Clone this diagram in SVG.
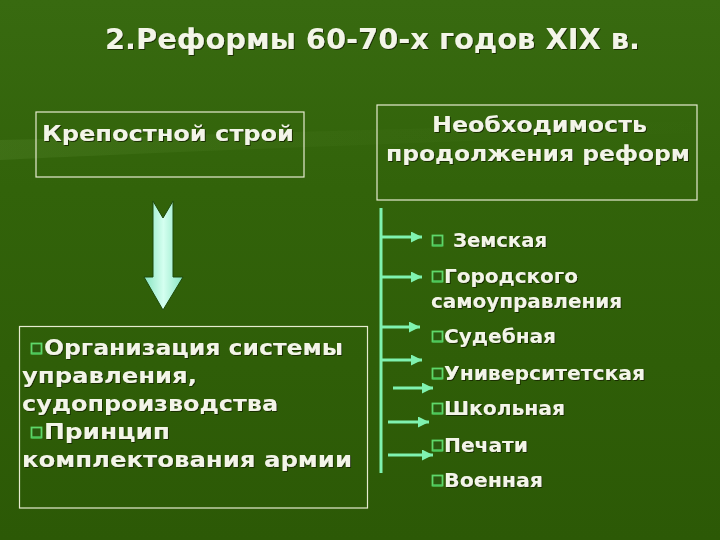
<svg xmlns="http://www.w3.org/2000/svg" width="720" height="540" viewBox="0 0 720 540">
<defs>
<linearGradient id="bg" x1="0" y1="0" x2="0" y2="1">
<stop offset="0" stop-color="#386a10"/>
<stop offset="0.35" stop-color="#32630a"/>
<stop offset="1" stop-color="#2c5906"/>
</linearGradient>
<linearGradient id="sheen" x1="0" y1="0" x2="1" y2="0">
<stop offset="0" stop-color="#6a9a40" stop-opacity="0.2"/>
<stop offset="0.5" stop-color="#6a9a40" stop-opacity="0.06"/>
<stop offset="1" stop-color="#6a9a40" stop-opacity="0"/>
</linearGradient>
<linearGradient id="arrowFill" x1="0" y1="0" x2="1" y2="0">
<stop offset="0" stop-color="#86e4c0"/>
<stop offset="0.5" stop-color="#d4fff0"/>
<stop offset="1" stop-color="#86e4c0"/>
</linearGradient>
<filter id="sh" x="-5%" y="-20%" width="110%" height="140%">
<feDropShadow dx="1" dy="1" stdDeviation="0.4" flood-color="#142800" flood-opacity="0.9"/>
</filter>
<marker id="ah" viewBox="0 0 10 10" refX="10" refY="5" markerWidth="11" markerHeight="11" markerUnits="userSpaceOnUse" orient="auto">
<path d="M0,0 L10,5 L0,10 Z" fill="#7ff2b0"/>
</marker>
<g id="bul">
<rect x="0.5" y="0.5" width="10" height="10" fill="#2b5a0e" stroke="#5fd86a" stroke-width="1.8"/>
<path d="M0.5,10.5 L10.5,10.5" stroke="#4cc85a" stroke-width="2"/>
</g>
</defs>
<style>
.t{font-family:"DejaVu Sans","Verdana",sans-serif;font-weight:bold;fill:#f3f5e8;filter:url(#sh)}
.title{font-family:"DejaVu Sans Condensed","DejaVu Sans",sans-serif;font-weight:bold;fill:#f3f5e8;font-size:29px;filter:url(#sh)}
.box{fill:none;stroke:#e6ecd0;stroke-width:1.2}
.con{stroke:#7ff2b0;stroke-width:3;fill:none}
</style>
<rect x="0" y="0" width="720" height="540" fill="url(#bg)"/>
<path d="M0,140 Q200,135 720,120 L720,132 Q200,150 0,160 Z" fill="url(#sheen)"/>

<text class="title" x="105" y="49" textLength="535" lengthAdjust="spacingAndGlyphs">2.Реформы 60-70-х годов XIX в.</text>

<g id="node-krepostnoy">
<rect class="box" x="36" y="112" width="268" height="65"/>
<text class="t" x="42" y="141" font-size="22" textLength="252" lengthAdjust="spacingAndGlyphs">Крепостной строй</text>
</g>

<g id="node-neobhodimost">
<rect class="box" x="377" y="105" width="320" height="95"/>
<text class="t" x="432" y="132" font-size="22" textLength="215" lengthAdjust="spacingAndGlyphs">Необходимость</text>
<text class="t" x="386" y="161" font-size="22" textLength="304" lengthAdjust="spacingAndGlyphs">продолжения реформ</text>
</g>

<g id="node-down-arrow">
<polygon points="153,201 163,218 173,201 173,277 183,277 163,310 144,277 153,277" fill="url(#arrowFill)" stroke="#1d4a0c" stroke-width="1"/>
</g>

<g id="node-organizaciya">
<rect class="box" x="19.5" y="326.5" width="348" height="181.5"/>
<use href="#bul" x="31" y="343"/>
<text class="t" x="44" y="355" font-size="22" textLength="299" lengthAdjust="spacingAndGlyphs">Организация системы</text>
<text class="t" x="22" y="383" font-size="22" textLength="175" lengthAdjust="spacingAndGlyphs">управления,</text>
<text class="t" x="22" y="411" font-size="22" textLength="256" lengthAdjust="spacingAndGlyphs">судопроизводства</text>
<use href="#bul" x="31" y="427"/>
<text class="t" x="44" y="439" font-size="22" textLength="126" lengthAdjust="spacingAndGlyphs">Принцип</text>
<text class="t" x="22" y="467" font-size="22" textLength="330" lengthAdjust="spacingAndGlyphs">комплектования армии</text>
</g>

<g id="connectors">
<line class="con" x1="381" y1="208" x2="381" y2="473"/>
<line class="con" x1="381" y1="237" x2="422" y2="237" marker-end="url(#ah)"/>
<line class="con" x1="381" y1="277" x2="422" y2="277" marker-end="url(#ah)"/>
<line class="con" x1="381" y1="327" x2="420" y2="327" marker-end="url(#ah)"/>
<line class="con" x1="381" y1="360" x2="422" y2="360" marker-end="url(#ah)"/>
<line class="con" x1="393" y1="388" x2="433" y2="388" marker-end="url(#ah)"/>
<line class="con" x1="388" y1="422" x2="429" y2="422" marker-end="url(#ah)"/>
<line class="con" x1="388" y1="455" x2="433" y2="455" marker-end="url(#ah)"/>
</g>

<g id="node-zemskaya">
<use href="#bul" x="432" y="235"/>
<text class="t" x="453" y="247" font-size="19" textLength="94" lengthAdjust="spacingAndGlyphs">Земская</text>
</g>
<g id="node-gorodskogo">
<use href="#bul" x="432" y="271"/>
<text class="t" x="444" y="283" font-size="19" textLength="134" lengthAdjust="spacingAndGlyphs">Городского</text>
<text class="t" x="431" y="308" font-size="19" textLength="191" lengthAdjust="spacingAndGlyphs">самоуправления</text>
</g>
<g id="node-sudebnaya">
<use href="#bul" x="432" y="331"/>
<text class="t" x="444" y="343" font-size="19" textLength="112" lengthAdjust="spacingAndGlyphs">Судебная</text>
</g>
<g id="node-universitetskaya">
<use href="#bul" x="432" y="368"/>
<text class="t" x="444" y="380" font-size="19" textLength="201" lengthAdjust="spacingAndGlyphs">Университетская</text>
</g>
<g id="node-shkolnaya">
<use href="#bul" x="432" y="403"/>
<text class="t" x="444" y="415" font-size="19" textLength="121" lengthAdjust="spacingAndGlyphs">Школьная</text>
</g>
<g id="node-pechati">
<use href="#bul" x="432" y="440"/>
<text class="t" x="444" y="452" font-size="19" textLength="84" lengthAdjust="spacingAndGlyphs">Печати</text>
</g>
<g id="node-voennaya">
<use href="#bul" x="432" y="475"/>
<text class="t" x="444" y="487" font-size="19" textLength="99" lengthAdjust="spacingAndGlyphs">Военная</text>
</g>
</svg>
